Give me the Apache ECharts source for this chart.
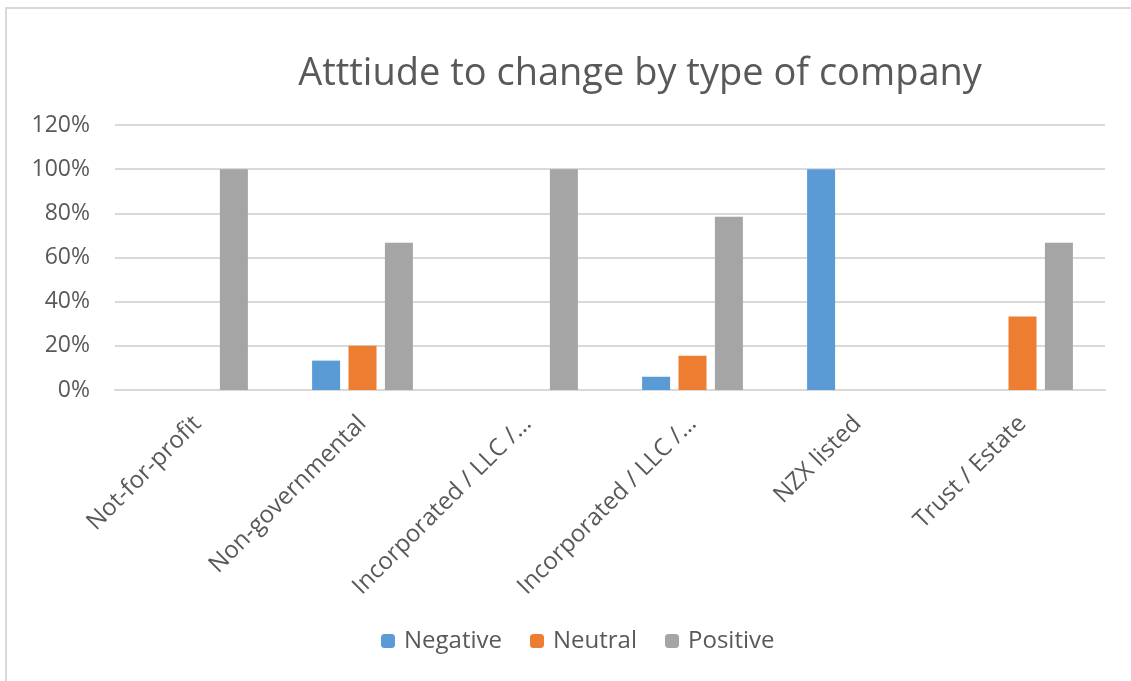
<!DOCTYPE html>
<html>
<head>
	<meta charset="utf-8" />
	<title>Atttiude to change by type of company</title>
	<script src="https://cdn.jsdelivr.net/npm/echarts@6/dist/echarts.min.js"></script>
	<style>
		body { margin: 0; background: #fff; }
		#frame { position: absolute; left: 5px; top: 7px; width: 1140px; height: 690px; border-left: 2px solid #d9d9d9; border-top: 2px solid #d9d9d9; }
		#main { position: absolute; left: 0; top: 0; width: 1131px; height: 681px; }
	</style>
</head>
<body>
	<div id="frame"></div>
	<div id="main"></div>
	<script type="text/javascript">
		// data
		var categories = ["Not-for-profit", "Non-governmental", "Incorporated / LLC /\u2026", "Incorporated / LLC /\u2026", "NZX listed", "Trust / Estate"];
		var negative = [0, 13.3, 0, 6, 100, 0];
		var neutral = [0, 20, 0, 15.5, 0, 33.3];
		var positive = [100, 66.7, 100, 78.4, 0, 66.7];
		var yTicks = [0, 20, 40, 60, 80, 100, 120];

		var font = "'Open Sans', 'Liberation Sans', sans-serif";
		var txt = "#595959";

		var myChart = echarts.init(document.getElementById("main"));

		function bar(name, data, color) {
			return {
				name: name,
				type: "bar",
				data: data,
				barWidth: 28,
				barGap: "30%",
				itemStyle: { color: color }
			};
		}

		var option = {
			animation: false,
			title: {
				text: "Atttiude to change by type of company",
				left: 635,
				top: 50,
				textAlign: "center",
				textStyle: { fontFamily: font, fontSize: 38, fontWeight: "normal", color: txt }
			},
			legend: {
				bottom: 23,
				left: 376,
				itemWidth: 14,
				itemHeight: 14,
				itemGap: 28,
				textStyle: { fontFamily: font, fontSize: 24, color: txt, padding: [0, 0, 0, 4] },
				data: ["Negative", "Neutral", "Positive"]
			},
			grid: { left: 115, right: 26, top: 125, bottom: 291, containLabel: false },
			xAxis: {
				type: "category",
				data: categories,
				axisLine: { lineStyle: { color: "#d9d9d9", width: 2 } },
				axisTick: { show: false },
				axisLabel: { rotate: 45, fontFamily: font, fontSize: 24, color: txt, margin: 30, interval: 0 }
			},
			yAxis: {
				type: "value",
				min: yTicks[0],
				max: yTicks[yTicks.length - 1],
				interval: 20,
				axisLine: { show: false },
				axisTick: { show: false },
				splitLine: { lineStyle: { color: "#d9d9d9", width: 2 } },
				axisLabel: { formatter: "{value}%", fontFamily: font, fontSize: 23, color: txt, margin: 25 }
			},
			series: [
				bar("Negative", negative, "#5b9bd5"),
				bar("Neutral", neutral, "#ed7d31"),
				bar("Positive", positive, "#a5a5a5")
			]
		};

		myChart.setOption(option);
	</script>
</body>
</html>
